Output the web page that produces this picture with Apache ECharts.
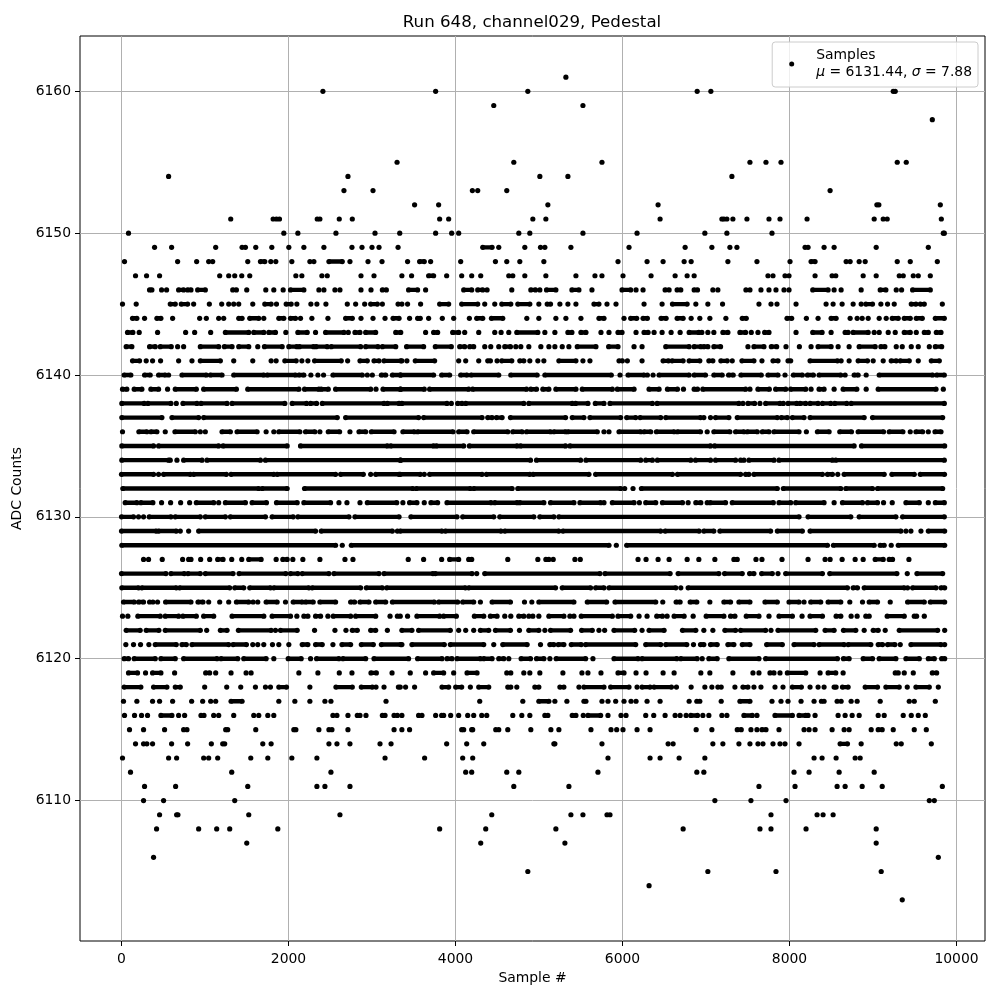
<!DOCTYPE html>
<html><head><meta charset="utf-8"><style>html,body{margin:0;background:#fff}#c{width:1000px;height:1000px}</style>
<script src="https://cdn.jsdelivr.net/npm/echarts@6/dist/echarts.min.js"></script></head><body><div id="c"></div>
<script>
// Each entry is a sample number, or [first,last] for a stretch of samples that merge on the picture.
const L6161=[5322];
const L6160=[2412,3762,4866,6894,7058,9242,9266];
const L6159=[4458,5526];
const L6158=[9710];
const L6155=[3300,4698,5754,7526,7718,7898,9290,9398];
const L6154=[564,2712,5010,5346,7310];
const L6153=[2664,3012,4202,4266,4614,8486];
const L6152=[3510,3798,5106,6426,9046,9070,9806];
const L6151=[1308,1816,1856,1892,2344,2376,2608,2764,3810,3918,4926,5082,6450,7190,7214,7250,7322,7490,7754,7886,8210,9014,9122,9170,9818];
const L6150=[84,1944,2112,2568,3036,3332,3762,3954,4038,4758,4890,5526,6174,6986,7250,7790,9842,9854];
const L6149=[396,600,1128,1444,1484,1608,1800,2004,2184,2424,2760,2880,3000,3084,3312,[4326,4438],4518,4830,5018,5070,5382,6078,6750,7070,7286,7370,8186,8222,8414,8534,9038,9662];
const L6148=[36,672,900,1044,1092,1512,[1664,1716],1788,1848,2040,2256,2304,[2484,2644],2736,2952,3120,3426,[3570,3626],3702,4062,4478,4614,4770,5058,5946,6294,6486,6738,6822,7262,7610,8006,[8258,8306],8678,8726,8834,8906,9290,9446,9770];
const L6147=[168,300,456,1176,1284,1356,1440,1536,2088,2160,2400,2464,2868,3024,3358,3474,[3678,3738],3894,4074,4194,4302,4638,4686,4830,5082,5442,5670,5754,6006,6342,6630,6774,6858,7742,7802,7946,7994,8306,8510,8554,8882,9038,9314,9362,9482,9542,9686];
const L6146=[[336,364],480,540,[684,744],[792,832],[912,1004],[1332,1376],1500,1728,1824,1936,[2024,2184],2364,2424,2556,2616,2868,2988,[3124,3172],[3438,3546],3642,[4098,4194],[4266,4326],4378,4674,[4902,4958],5010,[5090,5202],[5394,5478],5634,[5994,6098],6162,6246,[6510,6558],[6654,6698],[6858,6898],7082,7142,7478,7526,7658,7754,7838,7934,7994,[8278,8462],8534,8618,8858,[9086,9154],9278,9342,[9474,9686]];
const L6145=[12,176,[584,644],[716,792],864,1052,1200,1284,1344,1404,1572,[1716,1792],1856,[1972,2032],2100,2268,2340,2448,2704,2804,2912,[2984,3064],3124,3312,3358,3426,3582,[3810,3918],[4074,4266],4350,4470,[4554,4662],[4746,4890],4998,[5098,5138],5250,5346,5442,[5658,5718],5814,5922,6258,6474,[6598,6774],6878,7022,7198,7634,7778,7850,8078,8438,8522,8630,8762,8858,[8914,8994],9094,9174,9254,[9458,9514],[9566,9614],9830];
const L6144=[[132,184],276,[424,472],612,936,1016,1164,1224,[1404,1444],[1536,1644],1704,[1884,1944],[2024,2084],2144,2280,2472,[2684,2764],2868,3012,3156,[3252,3324],3450,[3546,3578],3678,3842,3978,4166,[4254,4326],[4430,4566],4854,4998,5202,5322,5502,[5718,5778],6018,[6098,6170],[6246,6298],[6462,6522],[6654,6726],6822,6926,7046,7238,[7434,7482],[7970,8026],8202,8342,[8498,8558],8726,8810,8870,8942,9074,9158,[9230,9302],[9374,9446],[9518,9590],[9746,9854]];
const L6143=[[72,136],212,432,768,876,1068,[1244,1524],[1584,1704],[1764,1844],1968,[2112,2224],2324,[2444,2664],2716,[2796,2856],[2924,3044],[3284,3344],3642,[3738,3786],[3966,4038],4110,4278,4470,4546,4638,[4734,4986],5070,5190,[5346,5394],[5502,5562],5742,5838,[5946,5994],6162,[6258,6306],6378,6474,6582,6690,[6798,6914],6950,7022,7094,[7202,7262],[7406,7474],7542,7622,[7702,7754],8078,[8278,8390],8498,[8666,8702],[8762,8942],9014,9074,9182,9266,[9374,9446],9518,[9614,9662],[9758,9814]];
const L6142=[[56,124],[336,404],[464,596],672,744,[944,1164],[1232,1324],[1404,1524],1632,[1712,1924],[2004,2100],[2130,2300],[2330,2464],[2512,2864],[2924,3072],[3124,3284],[3414,3618],[3758,3950],[4050,4110],[4170,4218],4350,4422,4518,[4590,4658],4722,4782,4878,5022,5118,5190,5278,5358,[5458,5682],[5834,5946],6138,6234,[6518,6798],[6858,6938],[6974,7022],[7094,7174],7502,[7574,7694],[7782,7846],7958,8118,8258,[8342,8498],8582,8714,[8834,9026],[9094,9142],9278,9350,9458,9542,9674,[9746,9822]];
const L6141=[[132,216],296,372,468,684,844,[944,1184],1344,1572,1792,1852,[1956,2092],2160,2232,[2312,2632],2708,[2856,2944],[3024,3084],[3144,3344],3358,3418,[3518,3750],4038,4122,4278,[4386,4418],4498,[4554,4674],[4770,4818],4890,4986,5058,[5238,5442],5526,5610,[5958,5998],6058,6234,[6486,6550],[6594,6726],[6798,6926],[7034,7082],[7178,7254],7314,[7430,7574],7670,[7802,7862],[7982,8014],[8246,8574],8618,8714,[8822,8934],9002,9122,[9218,9278],[9326,9434],9542,[9698,9794]];
const L6140=[[32,112],[276,344],[444,524],564,[724,1016],[1064,1204],[1344,1704],[1744,2084],[2124,2184],2268,2352,2420,[2532,2884],2944,3004,[3112,3164],[3244,3344],[3338,3738],[3834,3930],[4062,4138],[4186,4518],[4662,4978],[5070,5866],5970,[6066,6258],6298,6366,[6438,6798],[6858,6994],[7094,7194],[7270,7326],[7418,7662],[7742,7862],7946,[8046,8154],[8214,8286],[8354,8614],8666,[8774,8822],8918,[9074,9714],[9762,9854]];
const L6139=[[12,64],[152,244],[352,444],552,[644,896],[984,1376],[1512,2124],[2192,2364],[2392,2476],[2564,2984],3048,[3132,3344],[3338,3626],[3690,4158],[4206,4850],[4902,4970],[5046,5118],[5202,5442],[5518,5878],[5938,6138],[6318,6438],[6538,6658],6730,[6858,6898],[6962,7474],7526,[7622,7758],[7834,7954],[8014,8194],8258,[8354,8414],8534,[8642,8806],8918,[9062,9754],9842];
const L6138=[[4,272],[316,592],656,[736,904],[952,1264],[1324,1956],[2044,2216],[2264,2336],[2404,3144],[3184,3324],[3358,3898],3950,[4026,4078],[4122,4818],[4878,5398],[5438,5586],[5674,5778],[5850,6358],[6414,7394],7442,[7502,7582],7646,[7714,7886],7926,[7982,8086],[8126,8194],[8246,8342],[8394,8494],[8542,8686],[8738,9854]];
const L6137=[[4,484],[604,924],[984,2584],[2684,3558],[3618,4318],[4386,4438],[4490,4558],[4658,5318],[5398,5538],[5610,5978],[6050,6158],[6210,6458],[6518,6934],6974,7054,[7114,7274],[7374,7854],[7902,7974],[8034,8174],[8246,8894],[8994,9834]];
const L6136=[12,[208,304],[352,424],524,[640,884],944,1004,[1204,1304],[1384,1624],1732,1824,[1884,2136],[2204,2316],2376,[2476,2612],2736,[2844,2924],[2992,3264],[3370,3506],[3546,3970],[4038,4138],[4218,4626],[4686,4798],[4850,5138],[5178,5318],[5346,5698],5778,5838,[5958,6218],[6258,6338],[6406,6618],[6658,6934],7014,[7094,7286],[7354,7454],[7494,7614],[7674,7754],[7814,8114],8202,[8334,8474],[8602,8742],[8822,9126],[9194,9358],9446,[9514,9594],9662,[9742,9814]];
const L6135=[[4,384],[444,1164],[1216,1984],[2144,3184],[3224,3738],[3770,4098],[4166,4738],[4778,5318],[5370,7054],[7102,8774],[8862,9858]];
const L6134=[[4,564],584,664,[744,964],[1024,1664],[1724,3344],[3338,4898],[4970,5498],[5562,6218],[6278,6358],[6418,6818],[6874,7054],[7114,7354],[7414,7454],[7514,7814],[7874,8514],[8554,9854]];
const L6133=[[0,384],444,[504,824],[864,1256],[1312,1824],[1864,2564],[2624,2896],2984,[3044,3324],[3338,3578],3626,[3690,4318],[4370,4890],[4930,5598],[5678,6598],[6658,7414],[7474,7514],[7574,8394],[8454,8514],8578,[8654,9134],[9226,9494],[9566,9856]];
const L6132=[[16,1644],[1684,1984],[2192,3490],[3530,4178],[4218,4678],[4746,5978],6026,6126,[6226,7854],[7926,8614],[8674,8994],[9054,9834]];
const L6131=[[44,184],[232,376],480,588,708,816,[896,1104],1164,[1244,1484],[1564,1736],[1856,2104],[2184,2504],2604,2700,2856,[2944,3296],3370,[3450,3538],3626,[3706,3786],[3898,4426],[4470,4738],[4770,5058],[5138,5418],[5490,5738],5778,[5878,6138],6202,[6278,6398],[6478,6718],6786,[6878,6938],7014,[7050,7234],[7314,7806],[7874,8014],[8074,8414],8534,[8634,8874],[8934,9054],9126,9230,[9394,9554],9662,[9746,9854]];
const L6130=[[0,144],204,264,[332,592],[644,944],[1004,1244],[1304,1724],[1804,2056],[2112,2724],[2796,3324],[3466,4018],[4086,4458],[4530,4938],[5010,5178],[5238,8114],[8222,8734],[8834,9274],[9354,9854]];
const L6129=[[0,416],[444,656],704,804,[924,2324],[2392,3244],3304,[3338,3838],[3878,4546],[4590,5238],[5286,6458],[6510,6918],[6974,7094],[7166,7774],[7854,8154],[8246,9334],9394,9454,9574,[9662,9858]];
const L6128=[[4,2564],2644,[2752,5838],5926,[6050,8454],[8526,9014],[9086,9134],9218,[9302,9858]];
const L6127=[264,324,488,732,804,832,948,1056,[1152,1216],1320,1440,[1524,1672],1852,[1932,1984],2052,2172,2376,2676,2772,3434,3618,3834,[3930,4038],[4158,4194],4626,4986,[5082,5118],5170,5430,5494,6186,6282,6426,6558,6774,6914,7106,[7334,7374],7598,7670,7910,8222,8426,8486,8630,8786,8882,[9026,9122],[9194,9234],9430];
const L6126=[[0,532],[592,752],[796,944],[1004,1336],[1408,1968],[2024,2112],[2164,2484],[2544,3084],[3144,3730],[3758,4198],4254,[4350,5730],[5790,6570],[6666,7154],[7222,7434],[7522,7574],[7666,7794],7862,[7954,8394],[8482,9286],9410,[9526,9834]];
const L6125=[[4,204],[244,656],[696,1296],[1356,1464],[1536,1784],[1824,2244],[2284,2864],[2932,3124],[3176,4118],[4158,5198],[5278,5618],[5678,5778],[5838,6638],6698,[6786,8694],[8762,8814],[8894,9374],9414,[9474,9754],[9814,9858]];
const L6124=[[24,152],[204,264],336,376,432,[528,832],[916,976],1044,1176,1284,[1376,1524],1576,1632,[1732,1864],1964,[2056,2164],[2204,2296],[2376,2564],[2744,2792],[2856,2964],[3044,3164],[3244,3746],[3798,4026],[4086,4218],4298,[4438,4658],4826,4914,[4998,5418],[5578,5810],[5910,6398],6482,[6642,6690],[6810,6890],7046,[7214,7294],[7394,7526],[7706,7854],[7994,8114],8174,[8254,8374],[8462,8614],8722,8874,[8954,9054],9206,[9414,9614],[9686,9858]];
const L6123=[12,76,[196,464],[524,684],[736,896],[984,1104],[1324,1704],[1804,2024],2100,[2184,2232],[2324,2384],2472,[2536,2744],[2804,3044],3216,3304,3338,3426,[3538,3810],[3858,4010],[4226,4338],[4418,4498],4590,4662,[4758,4818],4878,4926,4998,[5118,5298],5370,5418,[5506,5878],[5946,6098],6198,6294,[6410,6478],6534,[6618,6738],6846,[7002,7214],[7294,7346],[7482,7634],7754,[7874,8034],8150,[8246,8394],[8558,8614],8738,8810,[8914,8954],[9170,9374],[9494,9522],9614];
const L6122=[[56,224],[296,448],[524,944],1020,[1184,1264],[1400,1792],1844,[1904,2104],2312,2556,2688,[2764,2824],[2984,3044],3184,[3358,3478],[3558,3938],4038,4122,4218,[4298,4398],[4478,4658],4766,[4878,4998],5070,[5138,5378],[5510,5638],5718,5786,[5898,6146],6234,[6318,6498],[6718,6878],6974,7082,[7226,7354],[7414,7714],7778,[7862,8314],[8426,8534],[8646,8794],8894,[9002,9062],9146,[9314,9774],9858];
const L6121=[52,144,228,328,[404,656],[724,776],[844,1284],[1336,1496],1572,1632,1704,1808,1884,2004,[2164,2232],[2324,2404],2532,[2640,2744],[2872,3016],[3112,3344],3358,[3478,3866],[3938,4338],4458,[4566,4858],5018,[5130,5178],[5230,5298],[5386,5506],[5558,6158],[6278,6458],[6518,6770],6850,[6934,6974],[7054,7134],[7262,7334],[7434,7526],[7726,7914],[8054,8294],[8354,8654],[8702,8974],[9062,9114],[9174,9262],9326,[9454,9814],9858];
const L6120=[[32,84],[152,404],[472,644],[744,1144],[1192,1392],[1464,1732],1824,[1996,2152],2264,[2336,2604],[2652,2924],[3024,3438],[3546,3838],[3898,3958],[4018,4298],[4338,4438],[4518,4578],4638,[4786,4898],[4970,5058],5130,[5206,5558],5646,[5898,6186],[6234,6650],[6698,6894],6954,[7034,7134],[7274,7634],[7714,8574],[8646,8714],[8882,8994],[9074,9274],[9394,9554],[9662,9734],[9822,9858]];
const L6119=[[84,192],288,[372,472],636,[1008,1056],1128,1312,1492,1552,2124,2352,2608,2760,[2988,3052],3240,3458,3642,[3738,3858],3978,[4138,4258],4614,4662,4818,4890,5010,5286,5514,5586,5742,[5946,6018],6162,6282,6486,6618,6938,7046,7322,7562,7634,[7766,7814],7886,[7974,8194],8366,[8462,8554],8642,[9266,9302],9374,9482,[9710,9762]];
const L6118=[[32,232],[384,544],[644,704],996,1260,1428,1604,1724,1784,[1884,1976],2256,[2568,2764],[2872,3004],3048,3144,3316,3338,3402,3510,[3838,3918],[4002,4074],4178,[4278,4398],[4626,4662],4734,[4950,4998],[5250,5298],5478,[5538,5778],[5858,6078],6174,[6234,6330],[6378,6586],6646,6822,6986,7070,7142,7182,7346,[7442,7502],7574,7658,7826,7922,[8034,8142],8246,8342,8414,[8534,8558],[8634,8702],[8906,9054],[9154,9314],9410,[9514,9674],9782];
const L6117=[24,184,372,456,612,840,972,1068,1128,[1312,1444],1884,2076,2256,2436,2508,3168,4290,4806,[4998,5118],5190,5334,5538,5562,5754,5826,5918,6018,6102,6162,6294,6450,6798,6890,6926,7182,[7406,7526],7790,7898,7982,8138,8294,8382,8414,8570,8618,8738,8810,9086,9434,9494,9746];
const L6116=[36,156,240,312,[472,604],684,756,952,988,1104,1164,1344,1584,1644,1752,1824,2532,2580,2712,2824,2856,2928,3124,3156,3264,3304,3358,3558,3598,3762,3834,3858,3942,4038,4146,4218,4314,4374,4686,4794,4890,5070,5106,[5398,5442],5530,[5586,5738],5826,5982,6042,6278,6374,6510,6630,6690,6762,[6818,6898],6962,7034,7190,7250,[7454,7554],7610,[7826,8034],[8114,8194],8222,8306,8582,8666,8750,8834,9062,9134,9362,9458,9542,9626];
const L6115=[96,264,516,744,784,1248,1272,1608,2064,2088,2364,2484,2520,2712,3264,3358,3450,4074,4098,4194,4206,4482,4518,4626,4902,5142,5238,5622,5862,5930,6006,6174,6330,6882,7070,[7374,7422],7538,7610,[7670,7718],7874,8174,8234,8306,8510,8654,8714,8978,[9062,9110],9242,9494,9638];
const L6114=[168,264,304,372,600,792,1076,1212,1236,1692,1792,2484,2580,2736,3096,3228,3894,4134,4338,5178,5190,5754,6546,6606,7082,7202,7394,7526,7622,7682,7802,7886,7946,8114,[8606,8694],8858,9278,9338,9698];
const L6113=[12,564,660,984,1044,1152,1548,1752,2040,2340,3156,3630,4086,4206,5826,6330,6450,6678,6986,8294,8390,8558,8786,8846];
const L6112=[108,1320,2508,4122,4194,4614,4758,5706,6890,6974,8054,8234,8594,9014];
const L6111=[276,648,1512,2340,2436,2736,4698,5358,7634,8066,8570,8666,8870,9110,9830];
const L6110=[264,504,1356,7106,7538,7958,9674,9734];
const L6109=[456,660,676,1524,2616,4434,5382,5526,5814,5850,7778,8330,8402,8522];
const L6108=[420,924,1140,1296,1872,3810,4362,5202,6726,7646,7778,8198,9038];
const L6107=[1500,4302,5310,9038];
const L6106=[384,9782];
const L6105=[4866,7022,7838,9098];
const L6104=[6318];
const L6103=[9350];

const levels=[[6161,L6161],[6160,L6160],[6159,L6159],[6158,L6158],[6155,L6155],[6154,L6154],[6153,L6153],[6152,L6152],[6151,L6151],[6150,L6150],[6149,L6149],[6148,L6148],[6147,L6147],[6146,L6146],[6145,L6145],[6144,L6144],[6143,L6143],[6142,L6142],[6141,L6141],[6140,L6140],[6139,L6139],[6138,L6138],[6137,L6137],[6136,L6136],[6135,L6135],[6134,L6134],[6133,L6133],[6132,L6132],[6131,L6131],[6130,L6130],[6129,L6129],[6128,L6128],[6127,L6127],[6126,L6126],[6125,L6125],[6124,L6124],[6123,L6123],[6122,L6122],[6121,L6121],[6120,L6120],[6119,L6119],[6118,L6118],[6117,L6117],[6116,L6116],[6115,L6115],[6114,L6114],[6113,L6113],[6112,L6112],[6111,L6111],[6110,L6110],[6109,L6109],[6108,L6108],[6107,L6107],[6106,L6106],[6105,L6105],[6104,L6104],[6103,L6103]];
const xTicks=[0,2000,4000,6000,8000,10000];
const yTicks=[6110,6120,6130,6140,6150,6160];
const titleText='Run 648, channel029, Pedestal';
const legendName='Samples';
const legendStats='{i|μ} = 6131.44, {i|σ} = 7.88';

const pts=[],runs=[];
levels.forEach(([y,list])=>list.forEach(e=>{
  if(Array.isArray(e)){pts.push([e[0],y],[e[1],y]);runs.push([e[0],y],[e[1],y],[e[1],null]);}
  else pts.push([e,y]);
}));
const font='DejaVu Sans';
const axisCommon={axisLine:{show:false,onZero:false},
  axisTick:{show:true,length:5,lineStyle:{color:'#000',width:1}},
  splitLine:{show:true,lineStyle:{color:'#b0b0b0',width:1}},
  nameLocation:'middle',nameTextStyle:{color:'#000',fontFamily:font,fontSize:13.9}};
const chart=echarts.init(document.getElementById('c'),null,{renderer:'canvas'});
chart.setOption({
  animation:false,backgroundColor:'#fff',
  title:{text:titleText,left:527,top:9,textAlign:'center',textStyle:{fontFamily:font,fontSize:16.67,fontWeight:'normal',color:'#000'}},
  grid:{left:80,top:36,width:905,height:905,show:true,borderColor:'#000',borderWidth:1,backgroundColor:'transparent'},
  xAxis:Object.assign({},axisCommon,{type:'value',position:'bottom',min:-497,max:10341,name:'Sample #',nameGap:30,
    axisTick:Object.assign({},axisCommon.axisTick,{customValues:xTicks}),
    axisLabel:{customValues:xTicks,color:'#000',fontFamily:font,fontSize:13.9,margin:11,formatter:v=>String(v)}}),
  yAxis:Object.assign({},axisCommon,{type:'value',position:'left',min:6100.1,max:6163.9,name:'ADC Counts',nameGap:50,
    axisTick:Object.assign({},axisCommon.axisTick,{customValues:yTicks}),
    axisLabel:{customValues:yTicks,color:'#000',fontFamily:font,fontSize:13.9,margin:9,formatter:v=>String(v)}}),
  legend:{data:[legendName],right:22,top:42,padding:[5,6,6,17],orient:'vertical',itemWidth:39,itemHeight:5,
    backgroundColor:'rgba(255,255,255,0.8)',borderColor:'#ccc',borderWidth:1,borderRadius:3,
    formatter:()=>legendName+'\n'+legendStats,
    textStyle:{color:'#000',fontFamily:font,fontSize:13.9,lineHeight:17,rich:{i:{fontStyle:'italic',fontFamily:font,fontSize:13.9,color:'#000'}}}},
  series:[
    {type:'line',name:'runs',data:runs,showSymbol:false,connectNulls:false,silent:true,z:2,
      lineStyle:{color:'#000',width:4.4,cap:'butt'},itemStyle:{color:'#000'}},
    {type:'scatter',name:legendName,data:pts,symbol:'circle',symbolSize:5.2,z:3,itemStyle:{color:'#000',opacity:1}}
  ]
});
</script></body></html>
